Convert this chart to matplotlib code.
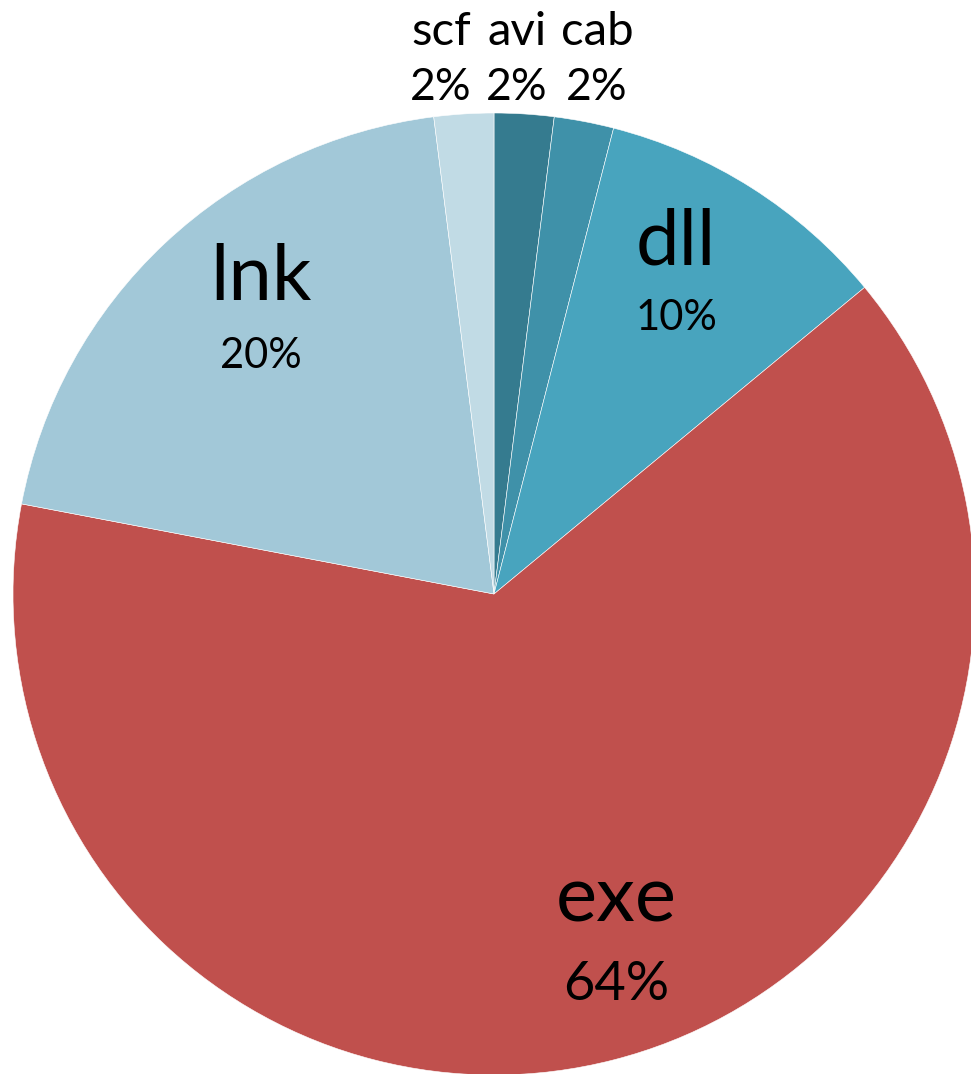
import matplotlib
matplotlib.use("Agg")
import matplotlib.pyplot as plt

# data, clockwise from 12 o'clock
LABELS = ["avi", "cab", "dll", "exe", "lnk", "scf"]
SHARES = [2, 2, 10, 64, 20, 2]
COLORS = ["#357B8F", "#3F91A9", "#48A4BE", "#C0504D", "#A2C8D8", "#C1DBE5"]

W, H = 971, 1074
CX, CY, R = 494, H - 594, 481

# label placement in pixels (x, name y, pct y, name size, pct size)
LABEL_POS = {
    "scf": (441, 32, 88, 34, 32),
    "avi": (517, 32, 88, 34, 32),
    "cab": (597, 32, 88, 34, 32),
    "dll": (676, 243, 318, 56, 30),
    "lnk": (261, 278, 356, 56, 30),
    "exe": (616, 900, 985, 56, 39),
}

plt.rcParams["font.family"] = ["Lato", "DejaVu Sans"]

fig = plt.figure(figsize=(W / 100, H / 100), dpi=100)
ax = fig.add_axes([0, 0, 1, 1])

ax.pie(SHARES, colors=COLORS, startangle=90, counterclock=False,
       center=(CX, CY), radius=R, frame=True,
       wedgeprops=dict(edgecolor="white", linewidth=0.4))
ax.set_xlim(0, W)
ax.set_ylim(0, H)
ax.set_aspect("equal")
ax.axis("off")

total = sum(SHARES)
for lab, val in zip(LABELS, SHARES):
    x, yn, yp, sn, sp = LABEL_POS[lab]
    ax.text(x, H - yn, lab, ha="center", va="center", fontsize=sn, color="black")
    ax.text(x, H - yp, f"{round(100 * val / total)}%", ha="center", va="center",
            fontsize=sp, color="black")

fig.savefig("out.png", dpi=100)
